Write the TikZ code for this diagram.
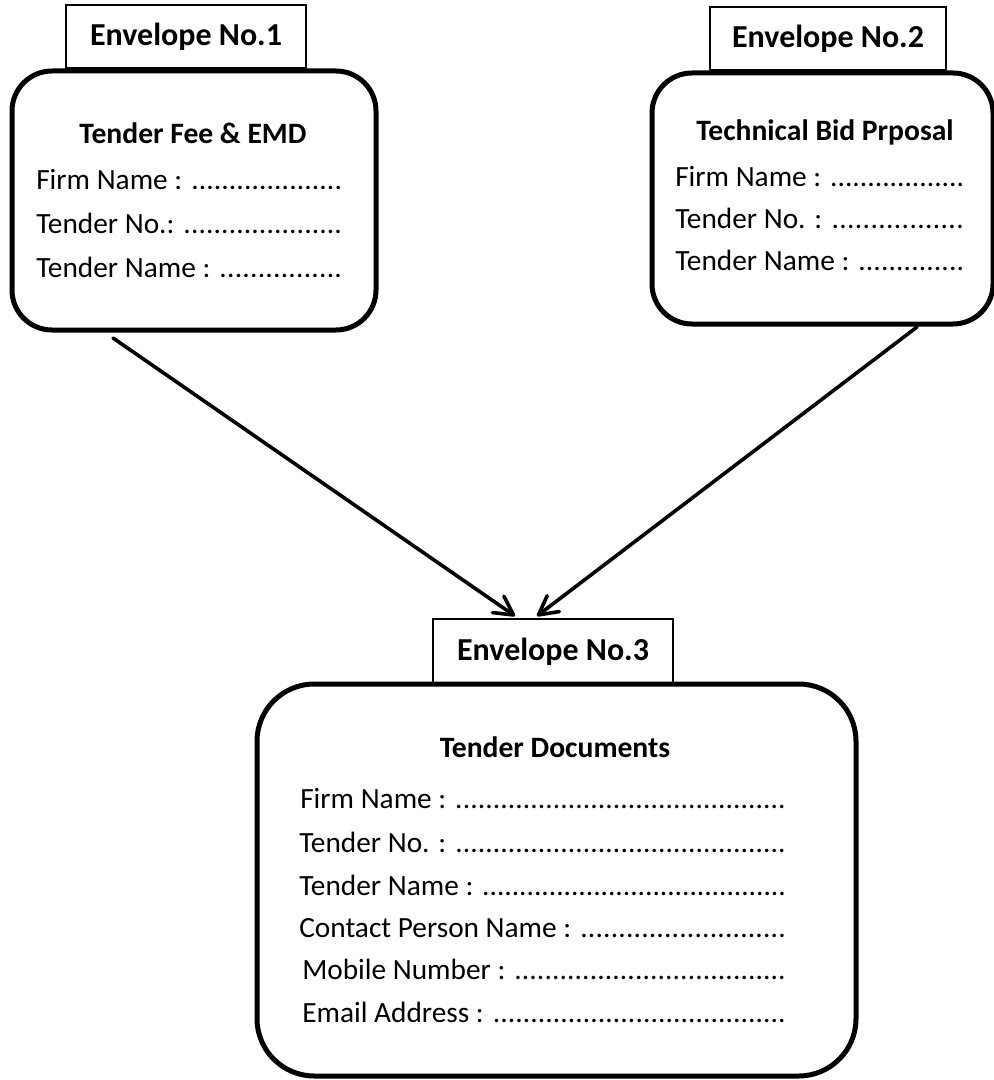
\documentclass[tikz,border=0pt]{standalone}
\usepackage{fontspec}
\setmainfont{Carlito}
\usetikzlibrary{arrows.meta}
\newcommand\dotline{\xleaders\hbox{.}\hfill}
\begin{document}
\begin{tikzpicture}[x=0.75pt,y=-0.75pt,
  env/.style={draw, line width=3.75pt, rounded corners=30pt, inner sep=0pt, outer sep=0pt},
  lab/.style={draw, line width=1.1pt, inner sep=0pt, outer sep=0pt, font=\bfseries\fontsize{24}{28}\selectfont},
  ttl/.style={anchor=base, inner sep=0pt, font=\bfseries\fontsize{22.2}{26}\selectfont},
  txt/.style={anchor=base west, inner sep=0pt, font=\fontsize{22}{26}\selectfont},
  conn/.style={line width=2.7pt, line cap=round, line join=round, -{Straight Barb[length=14pt,width=15pt,line join=round,line cap=round]}}]
\useasboundingbox (0,0) rectangle (994,1080);

% header labels
\node[lab, minimum width=180pt, minimum height=47.25pt] (lab1) at (186,36.5) {Envelope No.1};
\node[lab, minimum width=177pt, minimum height=47.25pt] (lab2) at (828,38.5) {Envelope No.2};
\node[lab, minimum width=180pt, minimum height=48.75pt] (lab3) at (553,651.5) {Envelope No.3};

% envelopes
\node[env, minimum width=273pt, minimum height=194.25pt] (box1) at (194,200.5) {};
\node[env, minimum width=255.75pt, minimum height=188.25pt] (box2) at (822.5,198.5) {};
\node[env, rounded corners=43pt, minimum width=449.25pt, minimum height=294pt] (box3) at (556.5,880) {};

% envelope 1 text
\node[ttl] (t1) at (193,144) {Tender Fee \& EMD};
\node[txt] (a1) at (36,190) {\makebox[229.5pt][l]{Firm Name : \dotline}};
\node[txt] (a2) at (36,234) {\makebox[229.5pt][l]{Tender No.: \dotline}};
\node[txt] (a3) at (36,278) {\makebox[229.5pt][l]{Tender Name : \dotline}};

% envelope 2 text
\node[ttl] (t2) at (825,141) {Technical Bid Prposal};
\node[txt] (b1) at (675,187) {\makebox[216.75pt][l]{Firm Name : \dotline}};
\node[txt] (b2) at (675,229) {\makebox[216.75pt][l]{Tender No. : \dotline}};
\node[txt] (b3) at (675,271) {\makebox[216.75pt][l]{Tender Name : \dotline}};

% envelope 3 text
\node[ttl] (t3) at (555,757) {Tender Documents};
\node[txt] (c1) at (300,808) {\makebox[364.5pt][l]{Firm Name : \dotline}};
\node[txt] (c2) at (299,852) {\makebox[365.25pt][l]{Tender No. : \dotline}};
\node[txt] (c3) at (299,895) {\makebox[365.25pt][l]{Tender Name : \dotline}};
\node[txt] (c4) at (299,937) {\makebox[365.25pt][l]{Contact Person Name : \dotline}};
\node[txt] (c5) at (302,979) {\makebox[363pt][l]{Mobile Number : \dotline}};
\node[txt] (c6) at (302,1022) {\makebox[363pt][l]{Email Address : \dotline}};

% connectors
\draw[conn] ([xshift=-60.75pt,yshift=-6pt]box1.south) -- ([xshift=-28.5pt,yshift=2.25pt]lab3.north);
\draw[conn] ([xshift=70.875pt,yshift=-2.25pt]box2.south) -- ([xshift=-12pt,yshift=2.25pt]lab3.north);
\end{tikzpicture}
\end{document}
